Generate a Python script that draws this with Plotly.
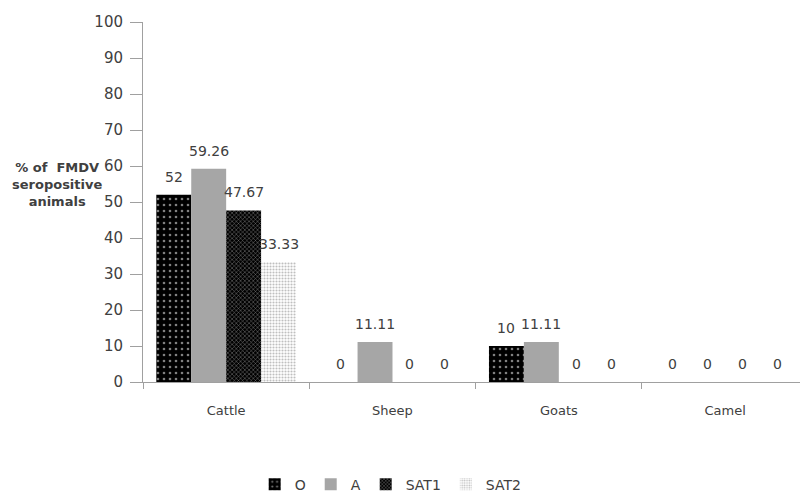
import plotly.graph_objects as go

categories = ["Cattle", "Sheep", "Goats", "Camel"]
serotypes = ["O", "A", "SAT1", "SAT2"]
values_O = [52, 0, 10, 0]
values_A = [59.26, 11.11, 11.11, 0]
values_SAT1 = [47.67, 0, 0, 0]
values_SAT2 = [33.33, 0, 0, 0]
y_ticks = [0, 10, 20, 30, 40, 50, 60, 70, 80, 90, 100]

series = [values_O, values_A, values_SAT1, values_SAT2]
styles = [
    dict(color="black", pattern=dict(shape=".", fgcolor="white", bgcolor="black", size=6, solidity=0.15)),
    dict(color="#a6a6a6"),
    dict(color="black", pattern=dict(shape="x", fgcolor="white", bgcolor="black", size=3, solidity=0.3)),
    dict(color="white", pattern=dict(shape=".", fgcolor="#808080", bgcolor="white", size=3, solidity=0.4)),
]

font = "DejaVu Sans, Verdana, sans-serif"
bargap = 0.16
bar_w = (1 - bargap) / len(series)

fig = go.Figure()
for name, vals, st in zip(serotypes, series, styles):
    fig.add_trace(go.Bar(
        name=name, x=categories, y=vals,
        marker=dict(line=dict(width=0), **st),
    ))

# value labels above each bar
for k, vals in enumerate(series):
    offset = (k - (len(series) - 1) / 2) * bar_w
    for i, v in enumerate(vals):
        fig.add_annotation(
            x=i + offset, y=v, xref="x", yref="y", text=f"{v:g}",
            showarrow=False, yanchor="bottom", xanchor="center", yshift=8,
            font=dict(size=14, color="#404040", family=font),
        )

fig.update_layout(
    width=800, height=498,
    margin=dict(l=143, r=0, t=22, b=116, autoexpand=False),
    paper_bgcolor="white", plot_bgcolor="white",
    barmode="group", bargap=bargap, bargroupgap=0,
    font=dict(family=font, color="#404040"),
    showlegend=True,
    legend=dict(orientation="h", x=0.377, xanchor="center", y=-0.285, yanchor="middle",
                font=dict(size=14, color="#404040"), itemwidth=30, traceorder="normal"),
)
fig.update_xaxes(
    range=[-0.5, 3.45], showline=True, linecolor="#a0a0a0", linewidth=1,
    ticks="outside", tickson="boundaries", ticklen=6, tickcolor="#a0a0a0",
    ticklabelstandoff=16, automargin=False,
    tickfont=dict(size=13, color="#404040"), showgrid=False,
)
fig.update_yaxes(
    range=[0, 100], tickvals=y_ticks, showline=True, linecolor="#a0a0a0", linewidth=1,
    ticks="outside", ticklen=12, tickcolor="#a0a0a0", ticklabelstandoff=4, automargin=False,
    tickfont=dict(size=15, color="#404040"), showgrid=False, zeroline=False,
)
fig.add_annotation(
    text="<b>% of  FMDV<br>seropositive<br>animals</b>", xref="paper", yref="y",
    x=(104 - 143) / 657, y=55, xanchor="right", yanchor="middle", showarrow=False, align="center",
    font=dict(size=13, color="#404040", family=font),
)
fig.write_html("out.html")
